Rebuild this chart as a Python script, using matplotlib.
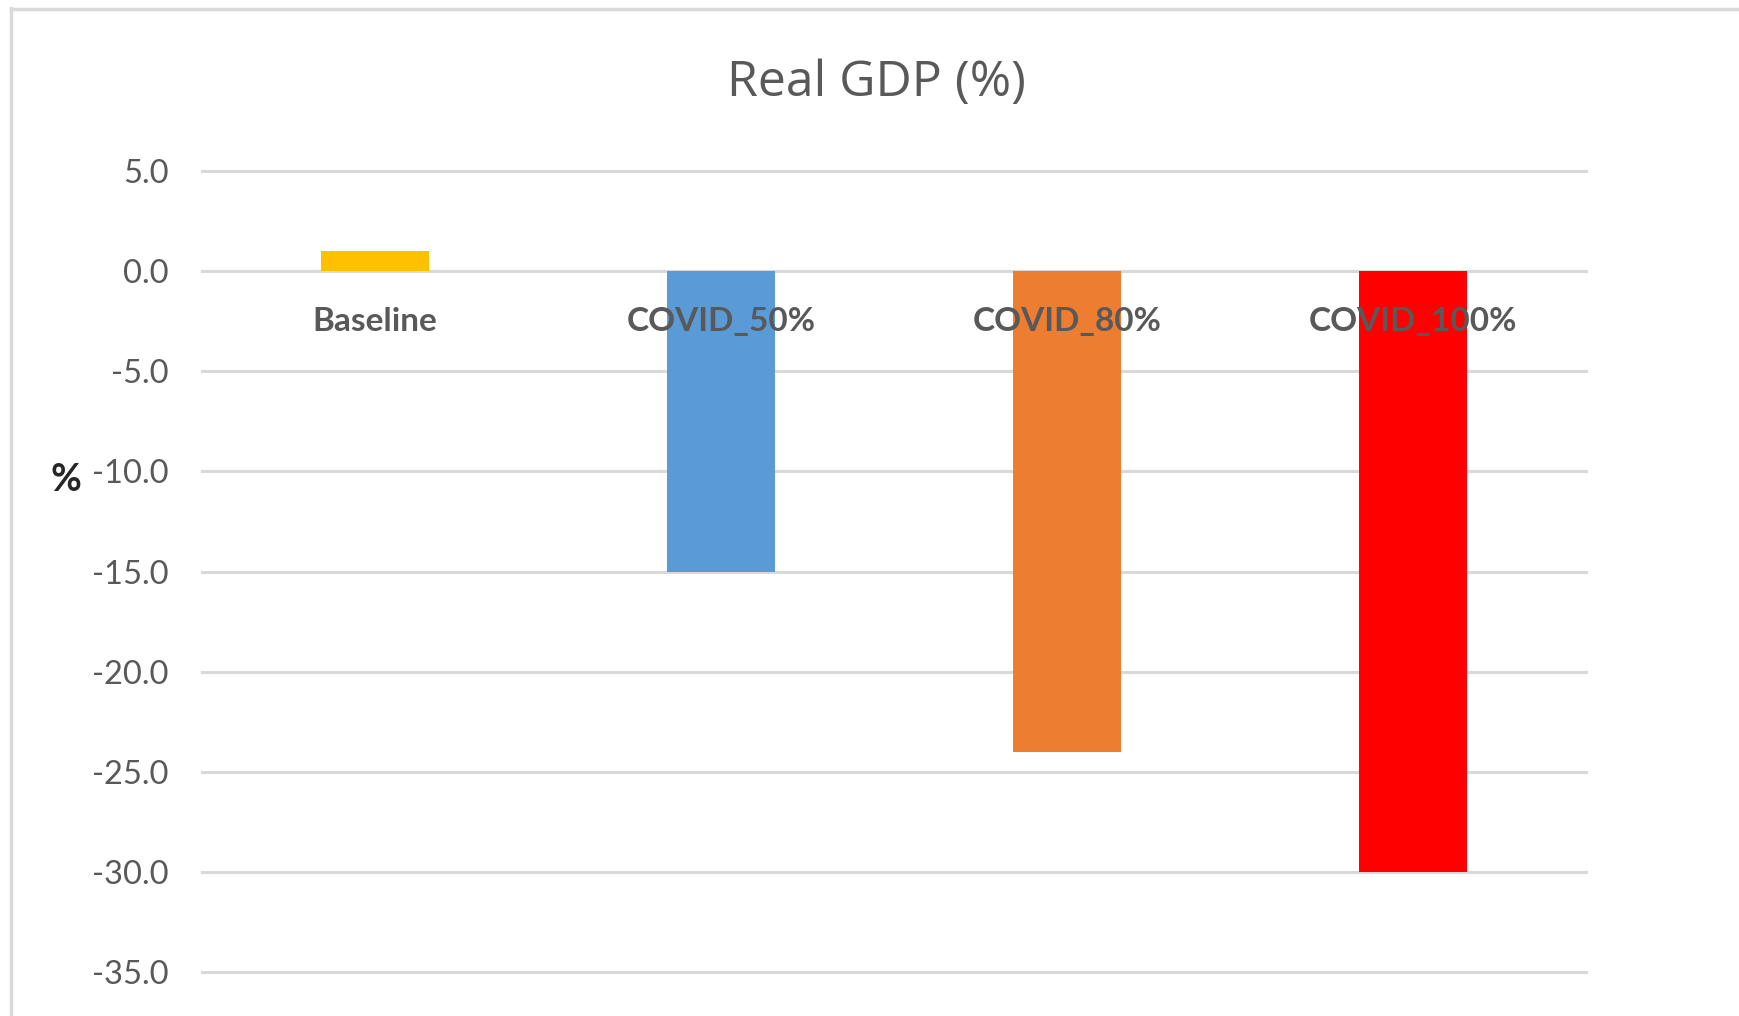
import matplotlib
matplotlib.use("Agg")
import matplotlib.pyplot as plt
from matplotlib.lines import Line2D

# Real GDP change by scenario (%)
categories = ["Baseline", "COVID_50%", "COVID_80%", "COVID_100%"]
gdp_change = [1.0, -15.0, -24.0, -30.0]
bar_colors = ["#FFC000", "#5B9BD5", "#ED7D31", "#FF0000"]
y_ticks = [5.0, 0.0, -5.0, -10.0, -15.0, -20.0, -25.0, -30.0, -35.0]

TEXT_GREY = "#595959"
GRID_GREY = "#D9D9D9"

W, H, DPI = 1739, 1016, 100
fig = plt.figure(figsize=(W / DPI, H / DPI), dpi=DPI)
fig.patch.set_facecolor("white")

# plot area in pixel terms
left_px, right_px = 202, 1586
top_px, bottom_px = 171, 972
ax = fig.add_axes([left_px / W, (H - bottom_px) / H,
                   (right_px - left_px) / W, (bottom_px - top_px) / H])

x = list(range(len(categories)))
ax.bar(x, gdp_change, width=0.31, color=bar_colors, zorder=2)

ax.set_xlim(-0.5, len(categories) - 0.5)
ax.set_ylim(min(y_ticks), max(y_ticks))
ax.set_yticks(y_ticks)
ax.set_yticklabels([f"{v:.1f}" for v in y_ticks], fontsize=23.5,
                   color=TEXT_GREY, fontfamily="Lato")
ax.tick_params(axis="y", length=0, pad=24)
ax.set_xticks([])

for v in y_ticks:
    ax.axhline(v, color=GRID_GREY, lw=2.2, zorder=1, clip_on=False)

for s in ax.spines.values():
    s.set_visible(False)

# category labels sit just below the zero line
for xi, name in zip(x, categories):
    ax.annotate(name, xy=(xi, 0), xytext=(0, -36), textcoords="offset points",
                ha="center", va="center", fontsize=24, fontweight="bold",
                color=TEXT_GREY, fontfamily="Lato", zorder=3)

fig.text(876 / W, 1 - 83 / H, "Real GDP (%)", ha="center", va="center",
         fontsize=36, color=TEXT_GREY, fontfamily="Open Sans")

fig.text(66 / W, 1 - 480 / H, "%", ha="center", va="center",
         fontsize=27, fontweight="bold", color="#262626", fontfamily="Lato")

# chart frame (left and top edges)
fig.add_artist(Line2D([11 / W, 11 / W], [0, 1 - 8 / H],
                      transform=fig.transFigure, color=GRID_GREY, lw=2.5))
fig.add_artist(Line2D([11 / W, 1], [1 - 9 / H, 1 - 9 / H],
                      transform=fig.transFigure, color=GRID_GREY, lw=2.5))

fig.savefig("out.png", dpi=DPI, facecolor="white")
